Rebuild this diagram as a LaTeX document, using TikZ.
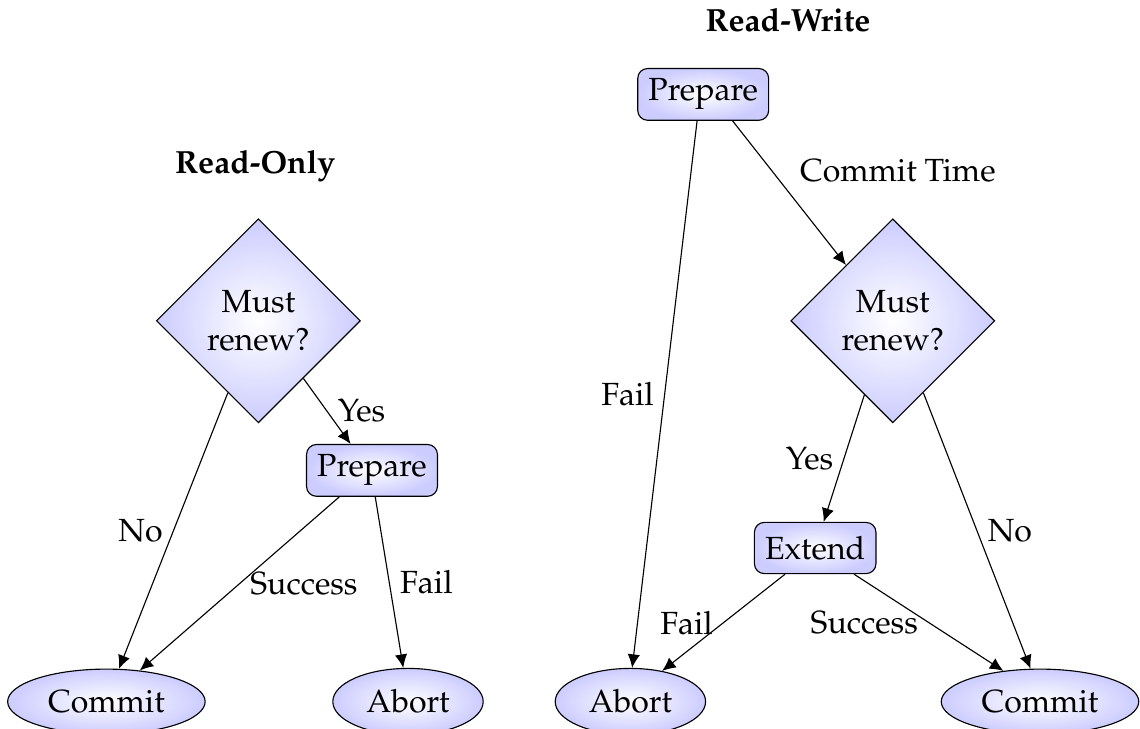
\documentclass[tikz,border=0pt,11pt]{standalone}
\usepackage[T1]{fontenc}
\usepackage{mathpazo}
\usetikzlibrary{shapes.geometric, arrows.meta}

\begin{document}
\begin{tikzpicture}[font=\fontsize{11.4}{13.6}\selectfont,
        >={Latex[length=4.8pt, width=4.4pt]},
        box/.style={draw, rounded corners=3.5pt, inner color=white, outer color=blue!20, inner xsep=3.8pt, minimum height=0.64cm},
        decision/.style={diamond, draw, aspect=1, minimum size=2.55cm, inner sep=0pt, align=center, inner color=white, outer color=blue!20},
        terminal/.style={ellipse, draw, inner sep=4.1pt, inner color=white, outer color=blue!20}]
        \useasboundingbox (0, 0) rectangle (14.25, 9.11);

        % Read-Only
        \node (T1) at (3.19, 7.03) {\textbf{Read-Only}};
        \node [decision] (D1) at (3.23, 5.10) {Must\\renew?};
        \node [box] (P1) at (4.65, 3.23) {Prepare};
        \node [terminal] (C1) at (1.33, 0.34) {Commit};
        \node [terminal] (A1) at (5.10, 0.34) {Abort};

        \draw [->] (D1.247) -- (C1.69) node [midway, left] {No};
        \draw [->] (D1.308) -- (P1.129) node [midway, right] {Yes};
        \draw [->] (P1.219) -- (C1.43) node [midway, right] {Success};
        \draw [->] (P1.277) -- (A1.98) node [midway, right] {Fail};

        % Read-Write
        \node (T2) at (9.85, 8.86) {\textbf{Read-Write}};
        \node [box] (P2) at (8.79, 7.93) {Prepare};
        \node [decision] (D2) at (11.16, 5.10) {Must\\renew?};
        \node [box] (X2) at (10.19, 2.26) {Extend};
        \node [terminal] (A2) at (7.88, 0.34) {Abort};
        \node [terminal] (C2) at (13.0, 0.34) {Commit};

        \draw [->] (P2.257) -- (A2.87) node [midway, left] {Fail};
        \draw [->] (P2.318) -- (D2.130) node [midway, above right] {Commit Time};
        \draw [->] (D2.249) -- (X2.72) node [midway, left] {Yes};
        \draw [->] (D2.293) -- (C2.106) node [midway, right] {No};
        \draw [->] (X2.221) -- (A2.44) node [midway, left] {Fail};
        \draw [->] (X2.326) -- (C2.140) node [midway, left] {Success};
    \end{tikzpicture}
\end{document}
